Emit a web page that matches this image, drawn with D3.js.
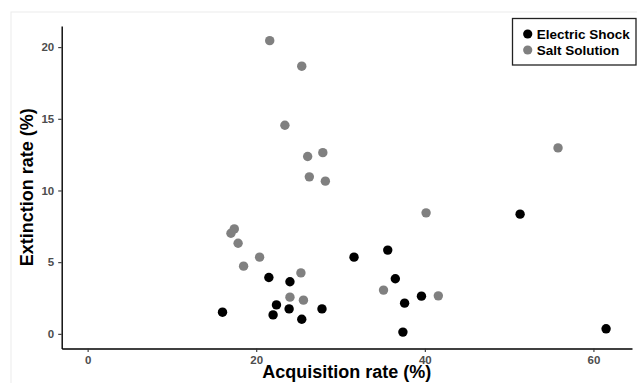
<!DOCTYPE html>
<html>
<head>
<meta charset="utf-8">
<script src="https://cdn.jsdelivr.net/npm/d3@7"></script>
<style>
  body { margin: 0; background: #fff; }
  svg { display: block; font-family: "Liberation Sans", Arial, sans-serif; }
</style>
</head>
<body>
<figure id="scatter" style="margin:0"></figure>
<script>
// series values: [acquisition %, extinction %]
const groups = ["Electric Shock", "Salt Solution"];
const groupColors = ["#000000", "#808080"];

const shockX = [16.0, 21.5, 24.0, 22.4, 22.0, 23.9, 25.4, 27.8, 31.6, 35.6, 36.5, 37.6, 39.6, 37.4, 51.3, 61.5];
const shockY = [1.51, 3.93, 3.63, 2.02, 1.32, 1.74, 1.02, 1.74, 5.35, 5.84, 3.84, 2.14, 2.63, 0.12, 8.35, 0.35];

const saltX = [21.6, 25.4, 23.4, 26.1, 26.3, 27.9, 28.2, 55.8, 17.0, 17.4, 17.85, 18.5, 20.4, 25.3, 24.0, 25.6, 40.15, 35.1, 41.6];
const saltY = [20.45, 18.67, 14.55, 12.37, 10.95, 12.64, 10.65, 12.97, 7.02, 7.32, 6.32, 4.72, 5.35, 4.25, 2.56, 2.35, 8.44, 3.05, 2.65];

const xTicks = [0, 20, 40, 60];
const yTicks = [0, 5, 10, 15, 20];

const width = 637, height = 383;
const margin = { top: 26, right: 5, bottom: 34.5, left: 61.7 };

const data = [];
shockX.forEach((v, i) => data.push({ x: v, y: shockY[i], g: 0 }));
saltX.forEach((v, i) => data.push({ x: v, y: saltY[i], g: 1 }));

const svg = d3.select("figure#scatter")
  .append("svg")
  .attr("width", width)
  .attr("height", height);

// faint outer frame of the original image
svg.append("rect")
  .attr("x", 11).attr("y", 12)
  .attr("width", width).attr("height", height)
  .attr("fill", "none")
  .attr("stroke", "#ececec");

// ggplot-style expansion: include 0, pad 5% of range
const xMax = d3.max(data, d => d.x), yMax = d3.max(data, d => d.y);
const x = d3.scaleLinear()
  .domain([0 - xMax * 0.05, xMax * 1.05])
  .range([margin.left, width - margin.right]);
const y = d3.scaleLinear()
  .domain([0 - yMax * 0.05, yMax * 1.05])
  .range([height - margin.bottom, margin.top]);

// Draw the X-axis
const gx = svg.append("g")
  .attr("transform", "translate(0," + (height - margin.bottom) + ")")
  .call(d3.axisBottom(x).tickValues(xTicks).tickSize(3.5).tickPadding(4).tickSizeOuter(0));

// Draw the Y-axis
const gy = svg.append("g")
  .attr("transform", "translate(" + margin.left + ",0)")
  .call(d3.axisLeft(y).tickValues(yTicks).tickSize(3.5).tickPadding(4).tickSizeOuter(0));

[gx, gy].forEach(g => {
  g.select(".domain").attr("stroke", "#000").attr("stroke-width", 1.4);
  g.selectAll(".tick line").attr("stroke", "#333").attr("stroke-width", 1.1);
  g.selectAll(".tick text")
    .attr("fill", "#4d4d4d")
    .style("font-size", "11.5px")
    .style("font-weight", "bold")
    .style("font-family", "'Liberation Sans', Arial, sans-serif");
});

// points
svg.selectAll("circle.pt")
  .data(data)
  .enter()
  .append("circle")
  .attr("class", "pt")
  .attr("cx", d => x(d.x))
  .attr("cy", d => y(d.y))
  .attr("r", 4.7)
  .attr("fill", d => groupColors[d.g]);

// axis titles
svg.append("text")
  .attr("x", (margin.left + width - margin.right) / 2)
  .attr("y", 378)
  .attr("text-anchor", "middle")
  .style("font-size", "18px")
  .style("font-weight", "bold")
  .text("Acquisition rate (%)");

svg.append("text")
  .attr("transform", "translate(33," + ((margin.top + height - margin.bottom) / 2) + ") rotate(-90)")
  .attr("text-anchor", "middle")
  .style("font-size", "18px")
  .style("font-weight", "bold")
  .text("Extinction rate (%)");

// legend
const legend = svg.append("g");
legend.append("rect")
  .attr("x", 512.5).attr("y", 18.5)
  .attr("width", 123.5).attr("height", 46.5)
  .attr("fill", "#fff")
  .attr("stroke", "#222")
  .attr("stroke-width", 1.3);

const items = legend.selectAll("g.item")
  .data(groups)
  .enter()
  .append("g")
  .attr("class", "item")
  .attr("transform", (d, i) => "translate(527.7," + (34 + i * 16) + ")");

items.append("circle")
  .attr("r", 4.6)
  .attr("fill", (d, i) => groupColors[i]);

items.append("text")
  .attr("x", 9)
  .attr("dy", "0.36em")
  .style("font-size", "13.5px")
  .style("font-weight", "bold")
  .text(d => d);
</script>
</body>
</html>
